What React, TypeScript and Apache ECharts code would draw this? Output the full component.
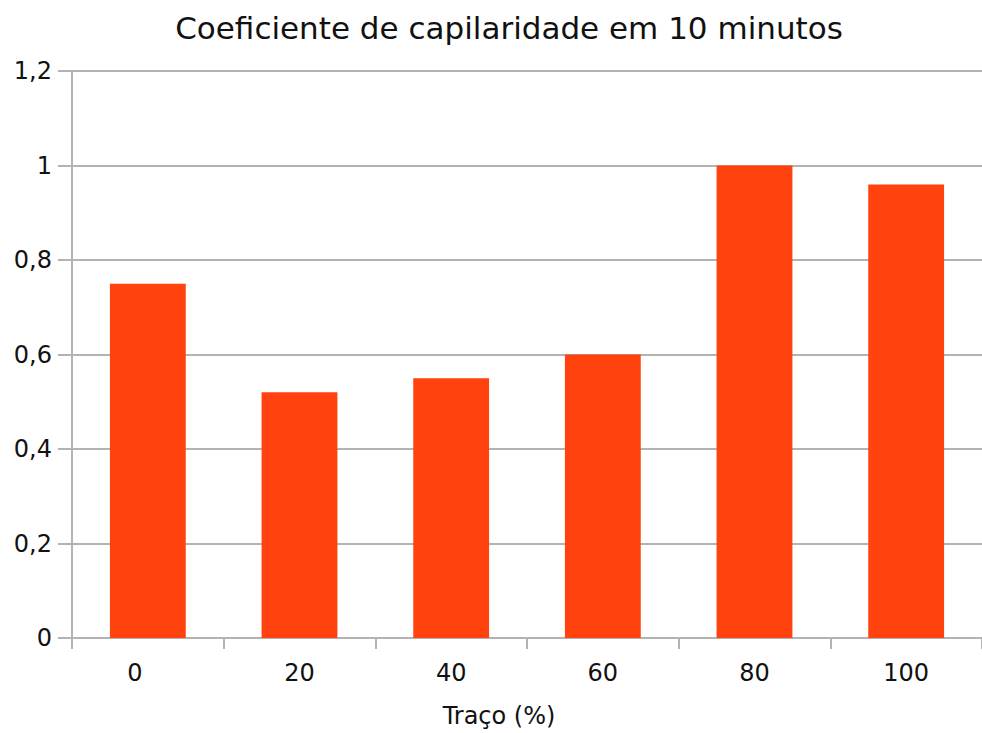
import React, { useEffect, useRef } from "react";
import * as echarts from "echarts";

const categories = ["0", "20", "40", "60", "80", "100"];
const values = [0.75, 0.52, 0.55, 0.6, 1.0, 0.96];
const yTicks = { min: 0, max: 1.2, interval: 0.2 };
const titleText = "Coeficiente de capilaridade em 10 minutos";
const xName = "Traço (%)";

const FONT = "DejaVu Sans";

export default function App() {
  const ref = useRef<HTMLDivElement>(null);
  useEffect(() => {
    if (!ref.current) return;
    const chart = echarts.init(ref.current, null, { renderer: "svg" });
    chart.setOption({
      animation: false,
      backgroundColor: "#ffffff",
      title: {
        text: titleText,
        left: 504,
        textAlign: "center",
        top: 7,
        textStyle: { fontFamily: FONT, fontSize: 31, fontWeight: "normal", color: "#111" },
      },
      grid: { left: 72, top: 71, width: 918, height: 568, containLabel: false },
      xAxis: {
        type: "category",
        data: categories,
        name: xName,
        nameLocation: "middle",
        nameGap: 66,
        nameTextStyle: { fontFamily: FONT, fontSize: 24, color: "#111", padding: [0, 56, 0, 0] },
        axisLine: { lineStyle: { color: "#b3b3b3", width: 2 } },
        axisTick: { show: true, length: 11, lineStyle: { color: "#b3b3b3", width: 2 } },
        axisLabel: {
          margin: 23,
          fontFamily: FONT,
          fontSize: 24,
          color: "#111",
          formatter: (v: string, i: number) => (i === 0 ? "{first|" + v + "}" : v),
          rich: { first: { fontFamily: FONT, fontSize: 24, color: "#111", padding: [0, 26, 0, 0] } },
        },
      },
      yAxis: {
        type: "value",
        min: yTicks.min,
        max: yTicks.max,
        interval: yTicks.interval,
        axisLine: { show: true, lineStyle: { color: "#b3b3b3", width: 2 } },
        axisTick: { show: true, length: 14, lineStyle: { color: "#b3b3b3", width: 2 } },
        splitLine: { lineStyle: { color: "#b3b3b3", width: 2 } },
        axisLabel: {
          margin: 20,
          fontFamily: FONT,
          fontSize: 24,
          color: "#111",
          formatter: (v: number) => (Math.round(v * 10) / 10).toString().replace(".", ","),
        },
      },
      series: [
        {
          type: "bar",
          data: values,
          barWidth: "50%",
          itemStyle: { color: "#ff420e" },
        },
      ],
    });
    return () => chart.dispose();
  }, []);
  return (
    <div
      ref={ref}
      style={{ position: "absolute", left: 0, top: 0, width: 982, height: 733, overflow: "hidden" }}
    />
  );
}
